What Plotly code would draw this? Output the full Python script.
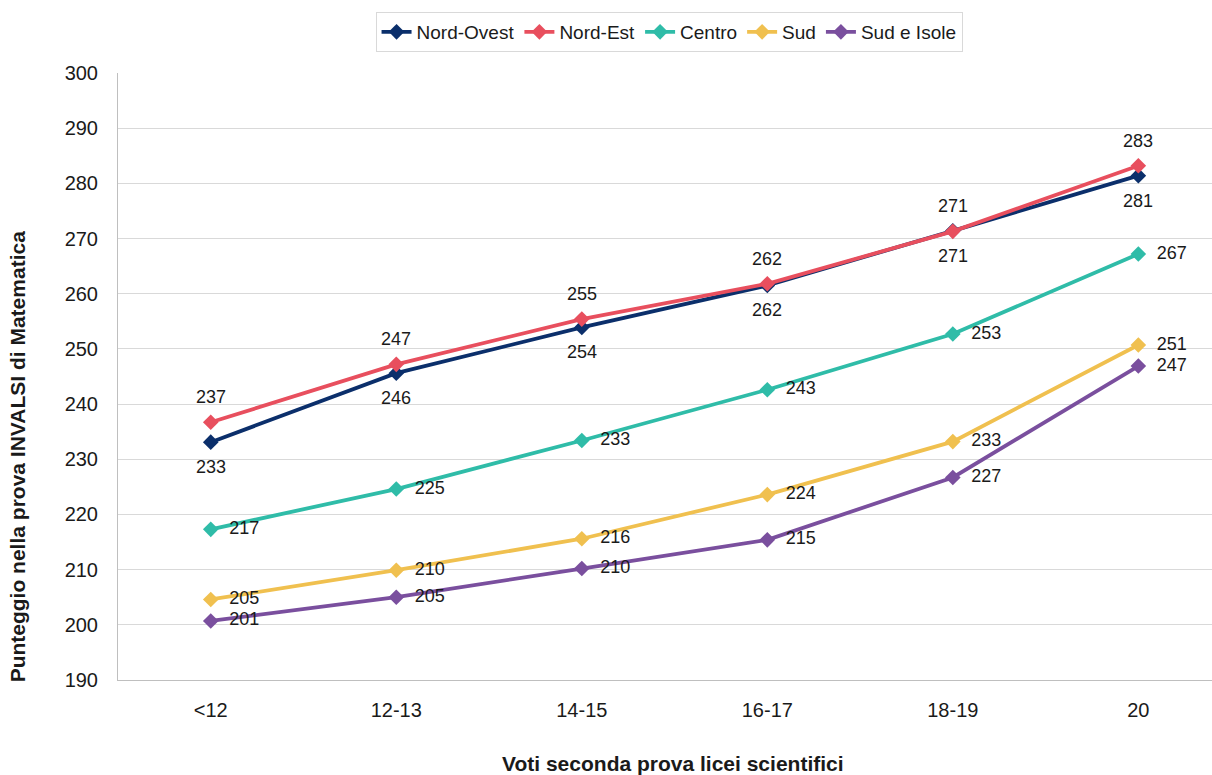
import plotly.graph_objects as go

# Categories: grade bands of the second written exam
categories = ["<12", "12-13", "14-15", "16-17", "18-19", "20"]

# Mean INVALSI mathematics score by geographic area
nord_ovest = [233.1, 245.6, 253.9, 261.5, 271.4, 281.4]
nord_est = [236.7, 247.2, 255.4, 261.8, 271.3, 283.2]
centro = [217.3, 224.6, 233.4, 242.6, 252.7, 267.2]
sud = [204.6, 209.9, 215.6, 223.6, 233.2, 250.7]
sud_isole = [200.7, 205.0, 210.2, 215.4, 226.7, 246.9]

y_ticks = [190, 200, 210, 220, 230, 240, 250, 260, 270, 280, 290, 300]

FONT = "Liberation Sans, Arial, sans-serif"
TXT = "#1a1a1a"

# name, values, colour, label placement (vertical shift in px, or None = right side)
series = [
    ("Nord-Ovest", nord_ovest, "#0b2f6b", -25),
    ("Nord-Est", nord_est, "#e84f5e", 25),
    ("Centro", centro, "#2fbca8", None),
    ("Sud", sud, "#f0c04f", None),
    ("Sud e Isole", sud_isole, "#7a4f9e", None),
]

fig = go.Figure()
annotations = []
for name, vals, color, shift in series:
    right = shift is None
    fig.add_trace(go.Scatter(
        x=categories, y=vals, name=name,
        mode="lines+markers+text" if right else "lines+markers",
        line=dict(color=color, width=3.8),
        marker=dict(symbol="diamond", size=12, color=color),
        text=[f"{v:.0f}" for v in vals] if right else None,
        texttemplate="  %{text}" if right else None,
        textposition="middle right",
        textfont=dict(family=FONT, size=18, color=TXT),
        cliponaxis=False,
    ))
    if not right:
        # category axes take the position index for annotations
        for i, v in enumerate(vals):
            annotations.append(dict(
                x=i, y=v, xref="x", yref="y", text=f"{v:.0f}",
                showarrow=False, yshift=shift, xanchor="center", yanchor="middle",
                font=dict(family=FONT, size=18, color=TXT),
            ))

annotations += [
    dict(text="<b>Voti seconda prova licei scientifici</b>",
         xref="paper", yref="paper", x=0.507, y=-0.138,
         xanchor="center", yanchor="middle", showarrow=False,
         font=dict(family=FONT, size=21, color=TXT)),
    dict(text="<b>Punteggio nella prova INVALSI di Matematica</b>",
         xref="paper", yref="paper", x=-0.092, y=0.369, textangle=-90,
         xanchor="center", yanchor="middle", showarrow=False,
         font=dict(family=FONT, size=21, color=TXT)),
]

fig.update_layout(
    width=1212, height=775,
    margin=dict(l=118, r=0, t=73, b=95),
    paper_bgcolor="white", plot_bgcolor="white",
    font=dict(family=FONT, size=18, color=TXT),
    legend=dict(
        orientation="h", x=0.5037, xanchor="center", y=1.1005, yanchor="top",
        bordercolor="#d9d9d9", borderwidth=1,
        font=dict(family=FONT, size=19, color=TXT),
        itemwidth=30, tracegroupgap=0,
    ),
    xaxis=dict(
        type="category", categoryorder="array", categoryarray=categories,
        range=[-0.5, 5.397],
        showgrid=False, showline=True, linecolor="#bfbfbf", linewidth=1,
        ticks="", ticklabelstandoff=12,
        tickfont=dict(family=FONT, size=20, color=TXT),
        zeroline=False,
    ),
    yaxis=dict(
        range=[190, 300], tickvals=y_ticks,
        showgrid=True, gridcolor="#d9d9d9", gridwidth=1,
        showline=True, linecolor="#bfbfbf", linewidth=1,
        ticks="", ticklabelstandoff=15,
        tickfont=dict(family=FONT, size=20, color=TXT),
        zeroline=False,
    ),
    annotations=annotations,
)

fig.write_html("out.html")
